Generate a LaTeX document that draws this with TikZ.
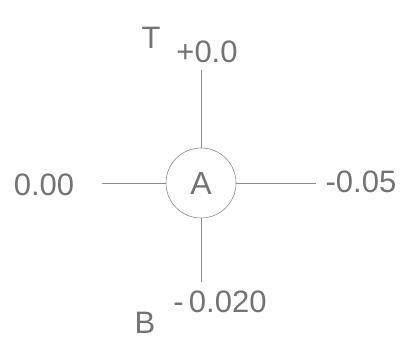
\documentclass[tikz,border=0pt]{standalone}
\usepackage{fontspec}
\setmainfont{Liberation Sans}
\usepackage{tikz}
\usetikzlibrary{positioning}
\usepackage{xcolor}
\definecolor{ink}{gray}{0.45}
\definecolor{wire}{gray}{0.55}

\begin{document}
\begin{tikzpicture}[x=1pt, y=-1pt,
    hub/.style={draw=wire, circle, line width=0.6pt, minimum size=70pt,
                inner sep=0pt, font=\fontsize{32}{36}\selectfont, text=ink},
    lbl/.style={font=\fontsize{31}{35}\selectfont, text=ink, inner sep=0pt},
    arm/.style={draw=wire, line width=0.6pt}
  ]
    \useasboundingbox (0,0) rectangle (413,349);

    % centre node
    \node[hub] (A) at (201,183) {A};

    % free ends of the arms
    \coordinate (tEnd) at (201,70);
    \coordinate (bEnd) at (201,282);
    \coordinate (lEnd) at (102,183);
    \coordinate (rEnd) at (316,183);

    \draw[arm] (A.north) -- (tEnd);
    \draw[arm] (A.south) -- (bEnd);
    \draw[arm] (A.west) -- (lEnd);
    \draw[arm] (A.east) -- (rEnd);

    % labels
    \node[lbl] (tName) at (151,38) {T};
    \node[lbl] (tVal)  at (207,52) {+0.0};
    \node[lbl] (lVal)  at (44,185) {0.00};
    \node[lbl] (rVal)  at (361,182) {-0.05};
    \node[lbl] (bVal)  at (220,302) {-\,0.020};
    \node[lbl] (bName) at (145,323) {B};
  \end{tikzpicture}
\end{document}
